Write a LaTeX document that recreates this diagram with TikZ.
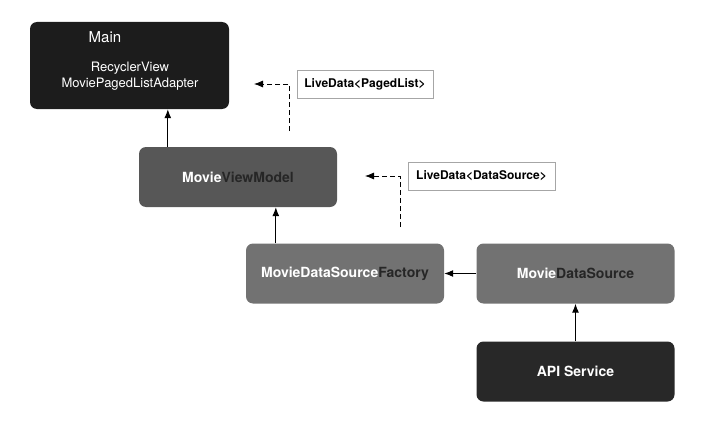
\documentclass[tikz,border=0pt]{standalone}
\usepackage{fontspec}
\setmainfont{TeX Gyre Heros}
\usetikzlibrary{positioning,arrows.meta}
\definecolor{mainbox}{HTML}{1C1C1C}
\definecolor{vmbox}{HTML}{575757}
\definecolor{dsbox}{HTML}{727272}
\definecolor{apibox}{HTML}{282828}
\definecolor{darktext}{HTML}{262626}

\begin{document}
\begin{tikzpicture}[x=1pt,y=-1pt,>={Latex[length=9pt,width=7pt]},
	block/.style={rounded corners=7pt,text=white,font=\fontsize{14}{16}\bfseries\selectfont,minimum height=60pt,minimum width=198pt},
	tag/.style={draw=black!35,fill=white,font=\fontsize{12}{14}\bfseries\selectfont,minimum height=28pt,inner xsep=5pt},
	wire/.style={line width=1.1pt,->},
	dwire/.style={line width=0.8pt,dash pattern=on 5pt off 3pt,->}]
	\useasboundingbox (0,0) rectangle (720,428);
	\node (main) [block,fill=mainbox,minimum height=87pt,minimum width=199pt] at (129.5,65.5) {};
	\node (maintitle) [text=white,font=\fontsize{15}{17}\selectfont] at (105,37) {Main};
	\node (mainsub) [text=white,font=\fontsize{13}{16}\selectfont,align=center] at (130,76) {RecyclerView\\MoviePagedListAdapter};
	\node (vm) [block,fill=vmbox] at (238,177) {Movie\textcolor{darktext}{ViewModel}};
	\node (fac) [block,fill=dsbox] at (345,273.5) {MovieDataSource\textcolor{darktext}{Factory}};
	\node (ds) [block,fill=dsbox] at (575.5,273.5) {Movie\textcolor{darktext}{DataSource}};
	\node (api) [block,fill=apibox] at (575.5,371.5) {API Service};
	\node (pagedlist) [tag,minimum width=136pt] at (365,84) {LiveData<PagedList>};
	\node (datasource) [tag,minimum width=147pt] at (481.5,176) {LiveData<DataSource>};
	\coordinate (plstart) at (289,131);
	\coordinate (plend) at (254,84);
	\coordinate (dsstart) at (400,227);
	\coordinate (dsend) at (365,176);
	\draw[wire] ([xshift=29pt]vm.north west) -- ([xshift=29pt]vm.north west |- main.south);
	\draw[wire] ([xshift=30pt]fac.north west) -- ([xshift=30pt]fac.north west |- vm.south);
	\draw[wire] (ds.west) -- (fac.east);
	\draw[wire] (api.north) -- (ds.south);
	\draw[dwire] (plstart) |- (plend);
	\draw[dwire] (dsstart) |- (dsend);
\end{tikzpicture}
\end{document}
